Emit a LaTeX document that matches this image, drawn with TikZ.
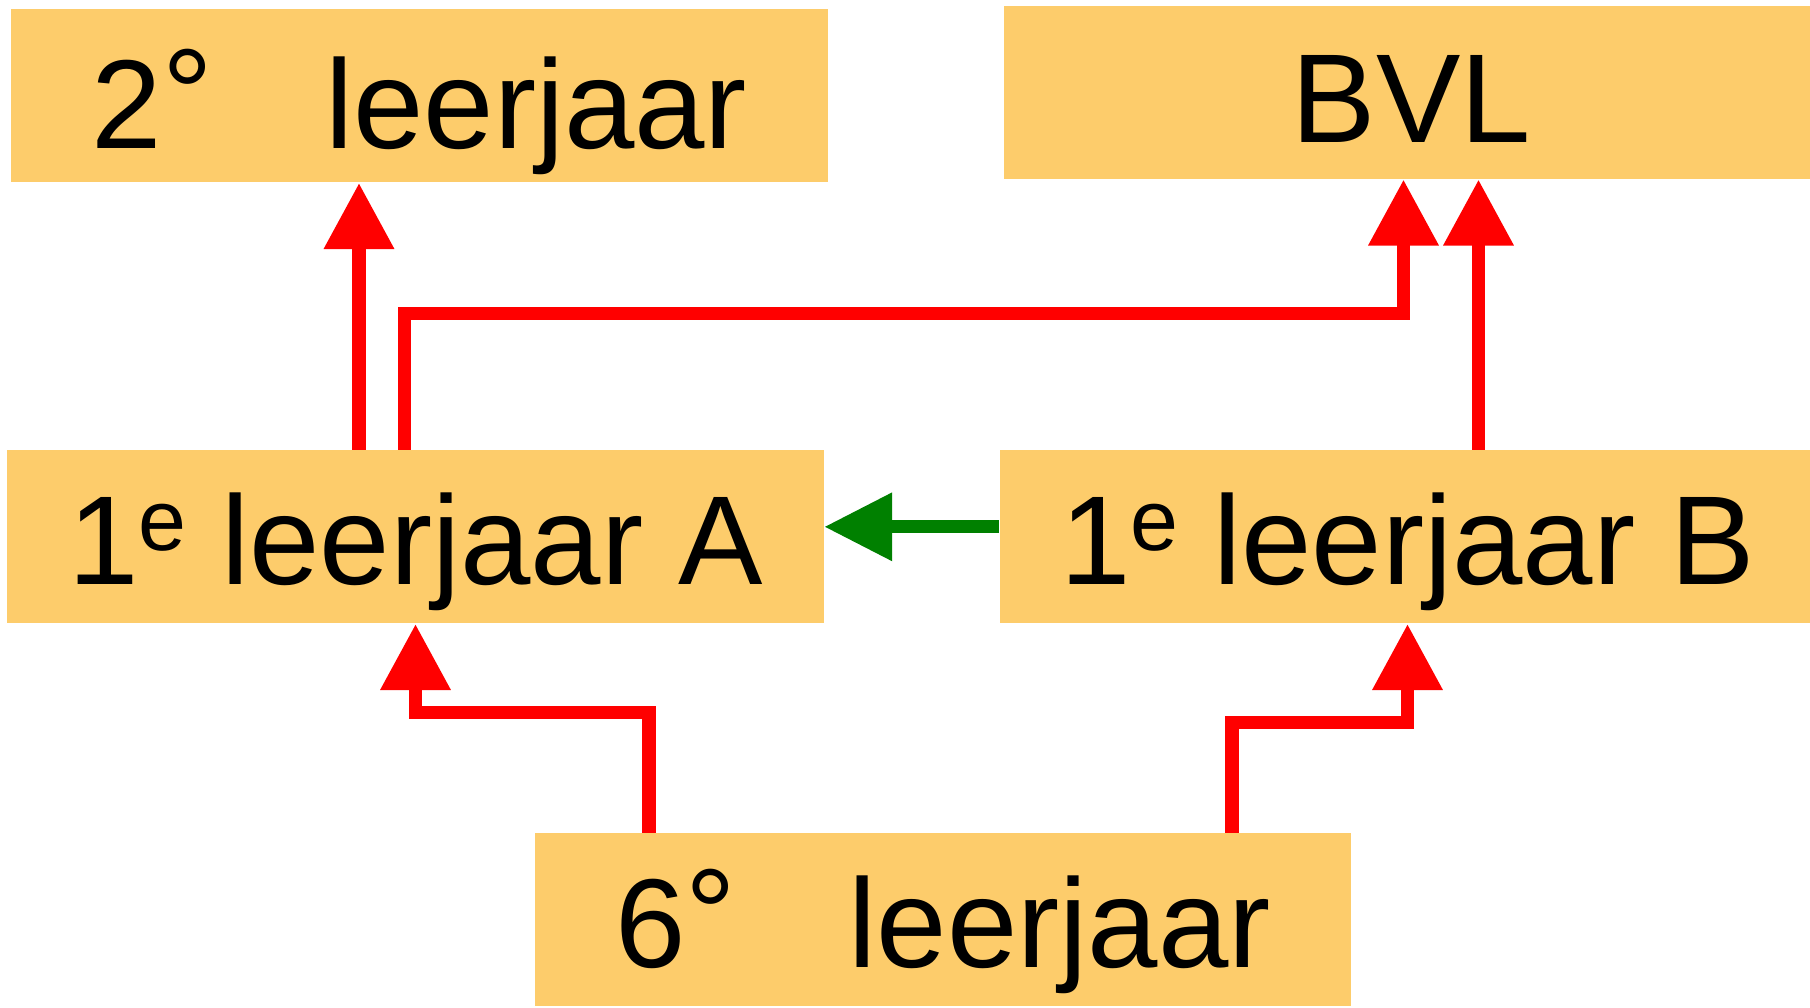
\documentclass[tikz,border=0pt]{standalone}
\usepackage{fontspec}
\setmainfont{Liberation Sans}
\usetikzlibrary{positioning,arrows.meta}
\definecolor{boxfill}{RGB}{253,204,107}
\definecolor{backgreen}{RGB}{0,128,0}
\newcommand{\supe}{\raisebox{9.8pt}{\fontsize{24.5pt}{24.5pt}\selectfont e}}
\newcommand{\grd}{\raisebox{3pt}{°}}
\tikzset{
  box/.style={rectangle,fill=boxfill,inner sep=0pt,minimum width=8.16cm,minimum height=1.73cm,
    font=\fontsize{36pt}{36pt}\selectfont,text height=31pt,text depth=3.6pt},
  up/.style={draw=red,line width=3.8pt,-{Triangle[length=6.6mm,width=6.7mm]}},
  back/.style={draw=backgreen,line width=3.8pt,-{Triangle[length=6.8mm,width=6.5mm]}}
}
\begin{document}
\begin{tikzpicture}
        \useasboundingbox (0,0) rectangle (18.10,-10.07);
        \node[box] (a) at (4.155,-5.368) {1\supe\ leerjaar A};
         \node[box,above of=a,node distance=4.41cm,xshift=0.04cm,text height=33.6pt] (two) {2\grd\hspace{32pt}leerjaar};
         \node[box,right of=a,node distance=9.92cm] (b) {1\supe\ leerjaar B};
         \node[box,above of=b,node distance=4.445cm,xshift=0.04cm,text height=32.3pt] (bvl) {BVL};
         \node[box,below of=a,node distance=3.83cm,xshift=5.275cm] (six) {6\grd\hspace{32pt}leerjaar};
         \draw[up] ([xshift=-5.65mm]a.north) -- ([xshift=-5.65mm]a.north |- two.south);
         \draw[up] ([xshift=-1.1mm]a.north) -- ++(0,1.36) -| ([xshift=-0.8mm]bvl.south);
        \draw[up] ([xshift=7.1mm]b.north) -- ([xshift=7.1mm]b.north |- bvl.south);
        \draw[back] ([yshift=1mm]b.west) -- ([yshift=1mm]b.west -| a.east);
     \draw[up] ([xshift=-29.4mm]six.north) -- ++(0,1.2) -| (a.south);
     \draw[up] ([xshift=28.9mm]six.north) -- ++(0,1.1) -| (b.south);
      \end{tikzpicture}
\end{document}
